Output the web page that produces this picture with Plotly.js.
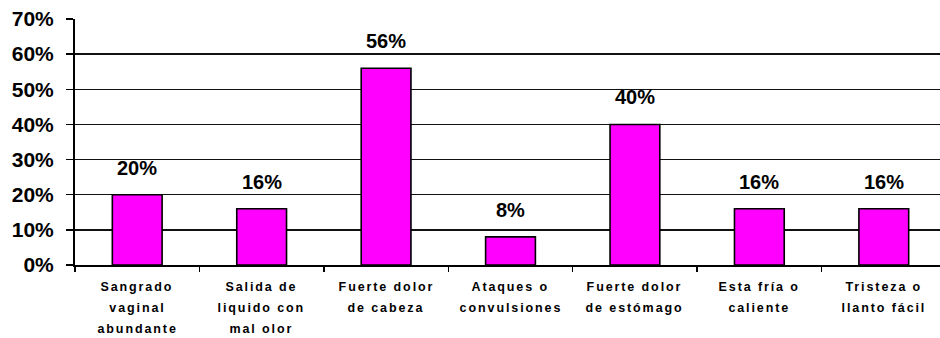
<!DOCTYPE html>
<html>
<head>
<meta charset="utf-8">
<script src="https://cdn.plot.ly/plotly-3.0.1.min.js"></script>
<style>
html,body{margin:0;padding:0;overflow:hidden;background:#fff;width:940px;height:338px;}
#chart{width:946px;height:338px;}
</style>
</head>
<body>
<div id="chart"></div>
<script>
var categories = [
  "Sangrado<br>vaginal<br>abundante",
  "Salida de<br>liquido con<br>mal olor",
  "Fuerte dolor<br>de cabeza",
  "Ataques o<br>convulsiones",
  "Fuerte dolor<br>de estómago",
  "Esta fría o<br>caliente",
  "Tristeza o<br>llanto fácil"
];
var values = [0.20, 0.16, 0.56, 0.08, 0.40, 0.16, 0.16];
var valueLabels = ["20%", "16%", "56%", "8%", "40%", "16%", "16%"];

var FONT = 'Liberation Sans, Arial, sans-serif';

var trace = {
  type: 'bar',
  x: categories,
  y: values,
  width: 0.4,
  marker: {color: '#FF00FF', line: {color: '#000', width: 1.6}},
  hoverinfo: 'none'
};

var annotations = categories.map(function(c, i){
  return {
    x: c, y: values[i], xref: 'x', yref: 'y',
    text: valueLabels[i], showarrow: false,
    yanchor: 'middle', yshift: 27,
    font: {family: FONT, size: 20, color: '#000', weight: 'bold'}
  };
});

var nValueAnn = annotations.length;
categories.forEach(function(c){
  c.split('<br>').forEach(function(line, k){
    annotations.push({
      x: c, y: 0, xref: 'x', yref: 'y',
      text: line, showarrow: false,
      yanchor: 'middle', yshift: -22 - 21 * k,
      font: {family: FONT, size: 12.5, color: '#000', weight: 'bold'}
    });
  });
});

var layout = {
  width: 946, height: 338,
  margin: {l: 75, r: 0, t: 19, b: 73},
  paper_bgcolor: '#fff', plot_bgcolor: '#fff',
  showlegend: false,
  xaxis: {
    type: 'category',
    showline: true, linecolor: '#000', linewidth: 2,
    ticks: 'outside', tickson: 'boundaries', ticklen: 5, tickwidth: 1.5, tickcolor: '#000',
    showticklabels: false,
    showgrid: false, zeroline: false
  },
  yaxis: {
    range: [0, 0.7], dtick: 0.1, tickformat: '.0%',
    showline: true, linecolor: '#000', linewidth: 2,
    ticks: 'outside', ticklen: 7, tickwidth: 1.5, tickcolor: '#000',
    tickfont: {family: FONT, size: 21, color: '#000', weight: 'bold'},
    ticklabelstandoff: 8,
    showgrid: true, gridcolor: '#111', gridwidth: 1.4,
    zeroline: false, fixedrange: true
  },
  annotations: annotations
};

Plotly.newPlot('chart', [trace], layout, {displayModeBar: false, staticPlot: true}).then(function(gd){
  var groups = gd.querySelectorAll('g.annotation');
  groups.forEach(function(g){
    var idx = parseInt(g.getAttribute('data-index'), 10);
    if (idx >= nValueAnn) {
      g.querySelectorAll('text').forEach(function(t){ t.style.letterSpacing = '1.9px'; });
    }
  });
});
</script>
</body>
</html>
